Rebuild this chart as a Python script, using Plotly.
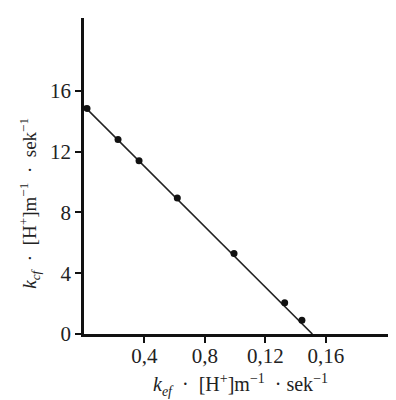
import plotly.graph_objects as go

# data
x_points = [0.002, 0.0225, 0.0364, 0.0617, 0.0992, 0.1327, 0.1441]
y_points = [14.85, 12.8, 11.4, 8.95, 5.3, 2.05, 0.9]
fit_x = [0.0, 0.151]
fit_y = [15.0, 0.0]

x_tickvals = [0.04, 0.08, 0.12, 0.16]
x_ticktext = ["0,4", "0,8", "0,12", "0,16"]
y_tickvals = [0, 4, 8, 12, 16]
y_ticktext = ["0", "4", "8", "12", "16"]

x_title = "<i>k</i><sub><i>ef</i></sub>\u00a0\u00a0·\u00a0\u00a0[H<sup>+</sup>]m<sup>−1</sup>\u00a0\u00a0·\u00a0sek<sup>−1</sup>"
y_title = "<i>k</i><sub><i>cf</i></sub>\u00a0\u00a0·\u00a0\u00a0[H<sup>+</sup>]m<sup>−1</sup>\u00a0\u00a0·\u00a0\u00a0sek<sup>−1</sup>"

font_family = "Liberation Serif, Times New Roman, serif"

fig = go.Figure()
fig.add_trace(go.Scatter(x=fit_x, y=fit_y, mode="lines",
                         line=dict(color="#222222", width=1.6),
                         showlegend=False, hoverinfo="skip"))
fig.add_trace(go.Scatter(x=x_points, y=y_points, mode="markers",
                         marker=dict(color="#111111", size=7),
                         showlegend=False))

fig.update_layout(
    width=396, height=400,
    margin=dict(l=76, r=0, t=10, b=74),
    paper_bgcolor="white", plot_bgcolor="white",
    font=dict(family=font_family, color="#222222", size=18),
    xaxis=dict(range=[0, 0.2116], tickvals=x_tickvals, ticktext=x_ticktext,
               showgrid=False, zeroline=False, showline=True, linecolor="#111111",
               linewidth=2.5, ticks="outside", ticklen=6, tickwidth=2, tickcolor="#111111",
               tickfont=dict(size=21), ticklabelstandoff=-5, fixedrange=True),
    yaxis=dict(range=[0, 20.8], tickvals=y_tickvals, ticktext=y_ticktext,
               showgrid=False, zeroline=False, showline=True, linecolor="#111111",
               linewidth=2.5, ticks="outside", ticklen=6, tickwidth=2, tickcolor="#111111",
               tickfont=dict(size=21), fixedrange=True),
    annotations=[
        dict(text=x_title, xref="paper", yref="paper", x=0.4875, y=-0.162,
             xanchor="center", yanchor="middle", showarrow=False,
             font=dict(size=20)),
        dict(text=y_title, xref="paper", yref="paper", x=-0.169, y=0.415,
             xanchor="center", yanchor="middle", showarrow=False, textangle=-90,
             font=dict(size=19)),
    ],
)

fig.write_html("out.html")
